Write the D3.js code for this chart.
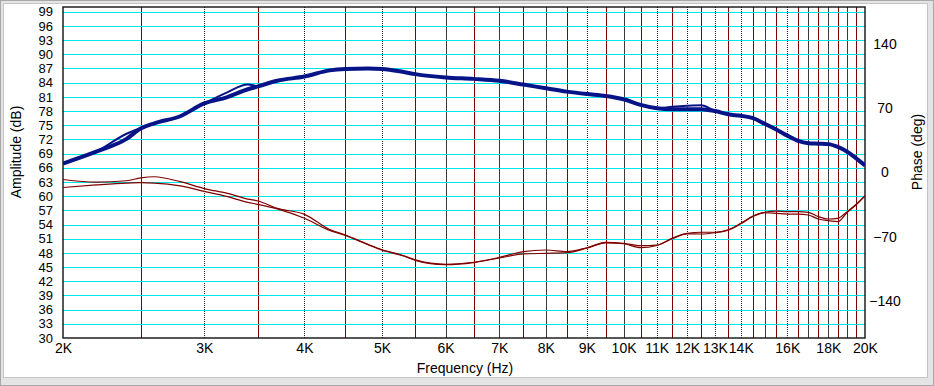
<!DOCTYPE html>
<html><head><meta charset="utf-8">
<script src="https://cdn.jsdelivr.net/npm/d3@7"></script>
<style>
html,body{margin:0;padding:0;background:#fff;}
svg{display:block;}
text{font-family:"Liberation Sans",Arial,sans-serif;font-size:14px;fill:#000;}
</style></head>
<body><svg id="c" width="934" height="386"></svg>
<script>
// ---- data ----
const freqs = [2000,2200,2400,2500,2600,2800,3000,3200,3400,3500,3700,4000,4300,4500,4800,5000,5300,5500,6000,6500,7000,7500,8000,8500,9000,9500,10000,10500,11000,11500,12000,12500,13000,13500,14000,14500,15000,15500,16000,16500,17000,17500,18000,18500,19000,19500,20000];
const ampA = [66.9,69.4,72.1,74.3,75.4,76.9,79.6,80.9,82.6,83.2,84.4,85.3,86.6,86.9,87.0,86.9,86.3,85.8,85.1,84.8,84.4,83.6,82.8,82.1,81.6,81.2,80.5,79.3,78.6,78.4,78.4,78.4,78.0,77.3,77.0,76.5,75.3,74.1,72.8,71.7,71.2,71.1,71.0,70.4,69.4,68.0,66.5];
const ampB = [66.9,69.4,73.2,74.4,75.4,76.9,79.6,81.9,83.6,83.3,84.4,85.3,86.6,86.9,87.0,86.9,86.3,85.8,85.1,84.8,84.4,83.6,82.8,82.1,81.6,81.2,80.5,79.3,78.6,78.9,79.1,79.2,78.0,77.3,77.0,76.5,75.3,74.1,72.8,71.7,71.2,71.1,71.0,70.4,69.4,68.0,66.5];
const phaseA = [-7.6,-10.5,-9,-5.8,-4.6,-10,-17.5,-22.5,-29,-31,-39,-45.5,-62,-68,-78,-84,-90,-95,-99.8,-97.6,-92.3,-86,-84.3,-86,-81.8,-76,-77,-79.6,-78.9,-71.4,-66.2,-65,-65,-62.3,-55.3,-47.3,-43.3,-41.9,-42.6,-42.6,-43.3,-48,-50.6,-49.8,-42.6,-34.6,-25.2];
const phaseB = [-16.3,-13.5,-11.5,-11.1,-11.5,-14.5,-20.5,-26,-32.5,-34.6,-39.5,-49.8,-63,-68.5,-78.5,-84.5,-90.5,-95.5,-100.2,-98,-93,-88.6,-87.9,-87.2,-82.3,-76.5,-77.5,-81.8,-79.4,-72,-66.8,-66.9,-65.5,-62.8,-55.8,-47.8,-43.8,-44.4,-45.2,-45.2,-46.2,-50.6,-52.4,-53.5,-43.5,-35.2,-25.5];
const ampTicks = [30,33,36,39,42,45,48,51,54,57,60,63,66,69,72,75,78,81,84,87,90,93,96,99];
const phaseTicks = [140,70,0,-70,-140];
const freqTicks = [2000,3000,4000,5000,6000,7000,8000,9000,10000,11000,12000,13000,14000,16000,18000,20000];
const freqTickLabels = ["2K","3K","4K","5K","6K","7K","8K","9K","10K","11K","12K","13K","14K","16K","18K","20K"];
const gridK = [3000,4000,5000,6000,7000,8000,9000,10000,11000,12000,13000,14000,15000,16000,17000,18000,19000];
const gridHalfK = [2500,3500,4500,5500,6500,7500,8500,9500,10500,11500,12500,13500,14500,15500,16500,17500,18500,19500];
const dottedK = [3000,4000,5000,9000,11000,12000,13000,14000,16000];

// ---- layout ----
const L = 63, R = 865, T = 7, B = 338;
const svg = d3.select("#c");
const x = d3.scaleLog().domain([2000,20000]).range([L,R]);
const yA = d3.scaleLinear().domain([30,100]).range([B,T]);
const yP = d3.scaleLinear().domain([-180,180]).range([B,T]);

// window border
svg.append("rect").attr("x",0.5).attr("y",0.5).attr("width",933).attr("height",385).attr("fill","#e4e4e4").attr("stroke","#a8a8a8");
svg.append("rect").attr("x",3.5).attr("y",3.5).attr("width",924).attr("height",374).attr("fill","#fff").attr("stroke","#9a9a9a").attr("stroke-dasharray","1,1");

// vertical grid
const g = svg.append("g");
g.selectAll(".vh").data(gridHalfK).join("line")
  .attr("x1",d=>Math.round(x(d))+0.5).attr("x2",d=>Math.round(x(d))+0.5)
  .attr("y1",T).attr("y2",B).attr("stroke","#800000").attr("stroke-width",1);
g.selectAll(".vk").data(gridK).join("line")
  .attr("x1",d=>Math.round(x(d))+0.5).attr("x2",d=>Math.round(x(d))+0.5)
  .attr("y1",T).attr("y2",B)
  .attr("stroke",d=>dottedK.includes(d)?"#202020":"#3a3a3a")
  .attr("stroke-dasharray",d=>dottedK.includes(d)?"1,1":null)
  .attr("stroke-width",1);
// horizontal grid
g.selectAll(".h").data(ampTicks.filter(v=>v>30)).join("line")
  .attr("x1",L).attr("x2",R)
  .attr("y1",d=>Math.round(yA(d))+0.5).attr("y2",d=>Math.round(yA(d))+0.5)
  .attr("stroke","#00e6e6").attr("stroke-width",1);

// frame
svg.append("rect").attr("x",L).attr("y",T).attr("width",R-L).attr("height",B-T)
  .attr("fill","none").attr("stroke","#111").attr("stroke-width",1.4);

// clip
svg.append("clipPath").attr("id","clip").append("rect").attr("x",L).attr("y",T).attr("width",R-L).attr("height",B-T);
const pg = svg.append("g").attr("clip-path","url(#clip)");

const lineA = d3.line().x((d,i)=>x(freqs[i])).y(d=>yA(d)).curve(d3.curveMonotoneX);
const lineP = d3.line().x((d,i)=>x(freqs[i])).y(d=>yP(d)).curve(d3.curveMonotoneX);

pg.append("path").datum(phaseA).attr("d",lineP).attr("fill","none").attr("stroke","#800000").attr("stroke-width",1.2);
pg.append("path").datum(phaseB).attr("d",lineP).attr("fill","none").attr("stroke","#800000").attr("stroke-width",1.2);
pg.append("path").datum(ampB).attr("d",lineA).attr("fill","none").attr("stroke","#061488").attr("stroke-width",2);
pg.append("path").datum(ampA).attr("d",lineA).attr("fill","none").attr("stroke","#061488").attr("stroke-width",4);

// axes
const axL = svg.append("g").attr("transform",`translate(${L},0)`)
  .call(d3.axisLeft(yA).tickValues(ampTicks).tickSize(0).tickPadding(10).tickFormat(d3.format("d")));
const axR = svg.append("g").attr("transform",`translate(${R},0)`)
  .call(d3.axisRight(yP).tickValues(phaseTicks).tickSize(0).tickPadding(20).tickFormat(d3.format("d")));
const axB = svg.append("g").attr("transform",`translate(0,${B})`)
  .call(d3.axisBottom(x).tickValues(freqTicks).tickSize(0).tickPadding(5).tickFormat((d,i)=>freqTickLabels[freqTicks.indexOf(d)]));
[axL,axR,axB].forEach(a=>{a.select(".domain").remove();a.selectAll("text").style("font-size","14px").style("font-family","'Liberation Sans',Arial,sans-serif").attr("fill","#000");});
axL.selectAll("text").style("font-size","13px");
axR.selectAll("text").attr("text-anchor","middle").attr("x",20);

// titles
svg.append("text").attr("transform","translate(21,152) rotate(-90)").attr("text-anchor","middle").text("Amplitude (dB)");
svg.append("text").attr("transform","translate(922,152) rotate(-90)").attr("text-anchor","middle").text("Phase (deg)");
svg.append("text").attr("x",465).attr("y",373).attr("text-anchor","middle").text("Frequency (Hz)");
</script></body></html>
